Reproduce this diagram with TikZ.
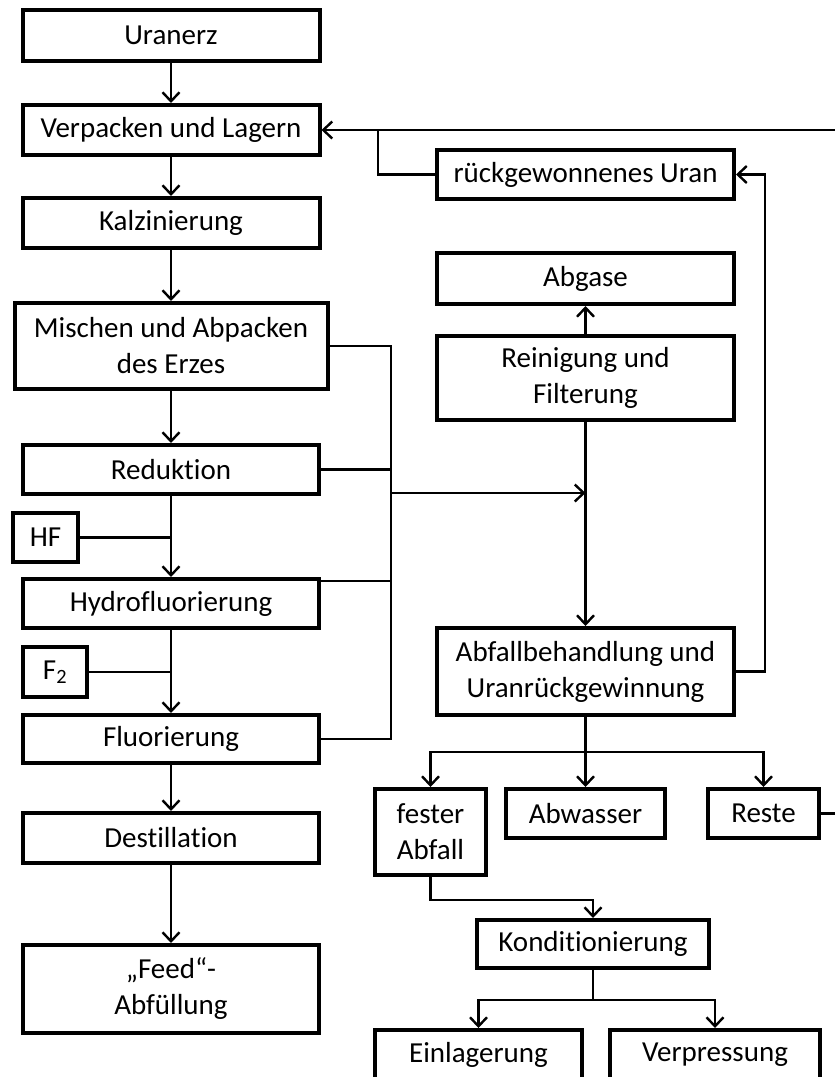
\documentclass[tikz,border=0pt]{standalone}
\usepackage{fontspec}
\setmainfont{Carlito}[Ligatures=NoCommon]
\usetikzlibrary{arrows.meta}

\begin{document}
\begin{tikzpicture}[x=1pt, y=-1pt,
    box/.style={draw, line width=4pt, inner sep=0pt, align=center,
        font=\fontsize{29}{36}\selectfont},
    dims/.style 2 args={minimum width=#1pt, minimum height=#2pt},
    link/.style={line width=2.4pt},
    flow/.style={link, -{Straight Barb[length=9pt,width=17pt]}}]
    \useasboundingbox (0,0) rectangle (835,1077);
    \clip (0,0) rectangle (835,1077);

    % main process (left column)
    \node[box, dims={297}{51}] (uranerz) at (171,35.5) {Uranerz};
    \node[box, dims={297}{50}] (lagern) at (171,130) {Verpacken und Lagern};
    \node[box, dims={297}{50}] (kalz) at (171,223) {Kalzinierung};
    \node[box, dims={313}{86}] (mischen) at (171,346) {Mischen und Abpacken\\des Erzes};
    \node[box, dims={296}{49}] (reduktion) at (171,469.5) {Reduktion};
    \node[box, dims={65}{49}] (hf) at (45.5,537.5) {HF};
    \node[box, dims={296}{49}] (hydro) at (171,603.5) {Hydrofluorierung};
    \node[box, dims={64}{50}] (ftwo) at (55,672) {F\textsubscript{2}};
    \node[box, dims={296}{48}] (fluor) at (171,739) {Fluorierung};
    \node[box, dims={296}{50}] (destill) at (171,838) {Destillation};
    \node[box, dims={296}{88}] (feed) at (171,989) {„Feed“-\\Abfüllung};

    % waste treatment (right column)
    \node[box, dims={297}{49}] (uran) at (585.5,174.5) {rückgewonnenes Uran};
    \node[box, dims={297}{51}] (abgase) at (585.5,278.5) {Abgase};
    \node[box, dims={297}{84}] (reinigung) at (585.5,378) {Reinigung und\\Filterung};
    \node[box, dims={297}{87}] (abfall) at (585.5,671.5) {Abfallbehandlung und\\Uranrückgewinnung};
    \node[box, dims={111}{86}] (fester) at (430.5,832) {fester\\Abfall};
    \node[box, dims={159}{49}] (abwasser) at (585.5,813.5) {Abwasser};
    \node[box, dims={111}{49}] (reste) at (763.5,813.5) {Reste};
    \node[box, dims={232}{48}] (kond) at (593,944) {Konditionierung};
    \node[box, dims={207}{50}] (einlag) at (478.5,1055) {Einlagerung};
    \node[box, dims={210}{50}] (verpress) at (715,1055) {Verpressung};

    \coordinate (bus) at (391,493);
    \coordinate (inlet) at (585.5,493);
    \coordinate (edgetop) at (835,130);
    \coordinate (tap) at (378,130);
    \coordinate (edgereste) at (835,813.5);
    \coordinate (split) at (585.5,752);
    \coordinate (ksplit) at (593,1000);

    % left column arrows
    \draw[flow] (uranerz) -- (lagern);
    \draw[flow] (lagern) -- (kalz);
    \draw[flow] (kalz) -- (mischen);
    \draw[flow] (mischen) -- (reduktion);
    \draw[flow] (reduktion) -- (hydro);
    \draw[flow] (hydro) -- (fluor);
    \draw[flow] (fluor) -- (destill);
    \draw[flow] (destill) -- (feed);
    \draw[link] (hf.east) -- (hf.east -| reduktion.south);
    \draw[link] (ftwo.east) -- (ftwo.east -| hydro.south);

    % off-gas bus
    \draw[link] (mischen.east) -| (bus |- fluor.east) -- (fluor.east);
    \draw[link] (reduktion.east) -- (reduktion.east -| bus);
    \draw[link] ([yshift=-4pt]hydro.north east) -- ([yshift=-4pt]hydro.north east -| bus);
    \draw[flow] (bus) -- (inlet);
    \draw[flow] (reinigung) -- (abgase);
    \draw[flow] (reinigung) -- (abfall);

    % recycling
    \draw[flow] (edgetop) -- (lagern.east);
    \draw[link] (uran.west) -| (tap);
    \draw[flow] (abfall.east) -- ++(29,0) |- (uran.east);

    % residues
    \draw[link] (abfall.south) -- (split);
    \draw[flow] (split) -| (fester.north);
    \draw[flow] (split) -- (abwasser.north);
    \draw[flow] (split) -| (reste.north);
    \draw[link] (reste.east) -- (edgereste);
    \draw[flow] (fester.south) -- ++(0,23) -| (kond.north);
    \draw[link] (kond.south) -- (ksplit);
    \draw[flow] (ksplit) -| (einlag.north);
    \draw[flow] (ksplit) -| (verpress.north);
\end{tikzpicture}
\end{document}
